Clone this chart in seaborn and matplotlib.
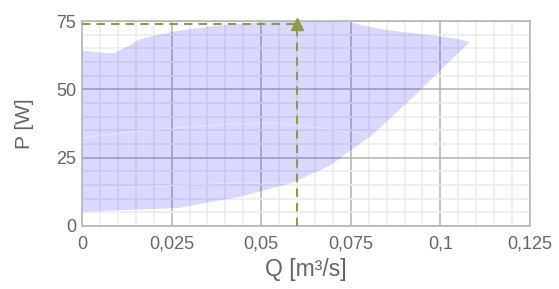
import numpy as np
import seaborn as sns
import matplotlib.pyplot as plt
from matplotlib.ticker import MultipleLocator, FixedLocator, FixedFormatter

# operating envelope of the pump
upper_q = [0, 0.005, 0.009, 0.0125, 0.016, 0.021, 0.027, 0.035, 0.042, 0.05, 0.06, 0.07, 0.075,
           0.078, 0.084, 0.089, 0.097, 0.103, 0.1083]
upper_p = [64.3, 63.5, 63.2, 65.6, 68.3, 69.9, 71.5, 72.9, 73.9, 74.6, 74.9, 74.9, 74.6,
           73.5, 72.0, 71.1, 69.9, 68.9, 67.4]
lower_q = [0, 0.027, 0.044, 0.0495, 0.0585, 0.0695, 0.075, 0.081, 0.0865, 0.0925, 0.1]
lower_p = [5.2, 6.6, 10.7, 12.6, 15.7, 22.3, 27.8, 33.3, 40.0, 47.3, 57.0]

# faint seams between the speed bands
seam_hi_q = [0, 0.018, 0.041, 0.055, 0.066, 0.075, 0.08]
seam_hi_p = [32.2, 35.1, 37.3, 37.7, 35.9, 34.5, 33.5]
seam_lo_q = [0, 0.042, 0.058]
seam_lo_p = [13.5, 15.7, 15.7]

# operating point
op_q = 0.06
op_p = 74.0

xticks = [0, 0.025, 0.05, 0.075, 0.1, 0.125]
xlabels = ['0', '0,025', '0,05', '0,075', '0,1', '0,125']
yticks = [0, 25, 50, 75]

sns.set_theme(style='white')
plt.rcParams['font.family'] = ['Liberation Sans', 'DejaVu Sans']

fig = plt.figure(figsize=(5.59, 2.89), dpi=100)
ax = fig.add_axes([0.1467, 0.218, 0.8013, 0.709])

poly_q = upper_q + lower_q[::-1]
poly_p = upper_p + lower_p[::-1]
ax.fill(poly_q, poly_p, color='#0000ff', alpha=0.15, lw=0, zorder=2)

sns.lineplot(x=seam_hi_q, y=seam_hi_p, ax=ax, color='white', alpha=0.3, lw=0.8, zorder=3)
sns.lineplot(x=seam_lo_q, y=seam_lo_p, ax=ax, color='white', alpha=0.3, lw=0.8, zorder=3)

olive = '#8c9a4e'
ax.plot([0, op_q], [op_p, op_p], color=olive, lw=1.5, ls=(0, (4, 3)), zorder=4)
ax.plot([op_q, op_q], [0, op_p], color=olive, lw=1.5, ls=(0, (4, 3)), zorder=4)
ax.plot([op_q], [op_p], marker='^', ms=9, color=olive, zorder=5, clip_on=False)

ax.set_xlim(0, 0.125)
ax.set_ylim(0, 75)
ax.xaxis.set_major_locator(FixedLocator(xticks))
ax.xaxis.set_major_formatter(FixedFormatter(xlabels))
ax.yaxis.set_major_locator(FixedLocator(yticks))
ax.xaxis.set_minor_locator(MultipleLocator(0.005))
ax.yaxis.set_minor_locator(MultipleLocator(5))

ax.grid(True, which='minor', color='#ececec', lw=1.2, zorder=0)
ax.grid(True, which='major', color='#b8b8b8', lw=1.2, zorder=1)
ax.set_axisbelow(True)
for s in ax.spines.values():
    s.set_color('#b8b8b8')
    s.set_linewidth(1.2)

ax.tick_params(axis='both', which='both', length=0, labelsize=13, labelcolor='#666666')
ax.tick_params(axis='x', pad=7)
ax.tick_params(axis='y', pad=4)

ax.set_xlabel('Q [m³/s]', fontsize=16.5, color='#666666', labelpad=4)
ax.set_ylabel('P [W]', fontsize=15, color='#666666', labelpad=16)

fig.savefig('out.png', dpi=100)
